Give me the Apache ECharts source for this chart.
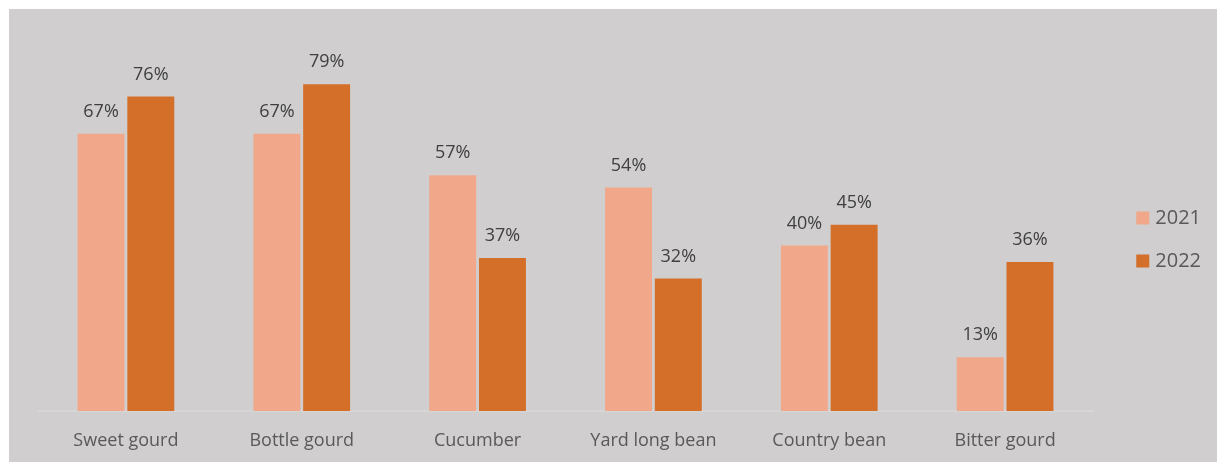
<!DOCTYPE html>
<html>
<head>
<meta charset="utf-8">
<script src="https://cdn.jsdelivr.net/npm/echarts@6/dist/echarts.min.js"></script>
<style>
html,body{margin:0;padding:0;background:#ffffff;}
#chart{position:absolute;left:9px;top:9px;width:1208px;height:453px;background:#d0cece;}
</style>
</head>
<body>
<div id="chart"></div>
<script>
const categories = ['Sweet gourd', 'Bottle gourd', 'Cucumber', 'Yard long bean', 'Country bean', 'Bitter gourd'];
const values2021 = [67, 67, 57, 54, 40, 13];
const values2022 = [76, 79, 37, 32, 45, 36];
const seriesNames = ['2021', '2022'];

const chart = echarts.init(document.getElementById('chart'));
const font = '"Open Sans", sans-serif';
const lbl = {
  show: true, position: 'top', distance: 13,
  formatter: p => Math.round(p.value) + '%',
  color: '#404040', fontSize: 18, fontFamily: font
};
chart.setOption({
  backgroundColor: '#d0cece',
  animation: false,
  grid: {left: 29, right: 124, top: 11, bottom: 51},
  legend: {
    orient: 'vertical', right: 11, top: 194,
    itemWidth: 13, itemHeight: 13, itemGap: 23, itemStyle: {borderWidth: 0},
    icon: 'rect',
    textStyle: {color: '#595959', fontSize: 20, fontFamily: font, padding: [0, 0, 0, 1]},
    data: seriesNames
  },
  xAxis: {
    type: 'category', data: categories,
    axisLine: {lineStyle: {color: '#d9d9d9', width: 1.5}},
    axisTick: {show: false},
    axisLabel: {color: '#595959', fontSize: 18, fontFamily: font, margin: 21}
  },
  yAxis: {
    type: 'value', min: 0, max: 94.5,
    show: false, splitLine: {show: false}
  },
  series: [
    {name: seriesNames[0], type: 'bar', data: values2021, barGap: '6%', barCategoryGap: '45%',
     itemStyle: {color: '#f1a88a'}, label: lbl},
    {name: seriesNames[1], type: 'bar', data: values2022, barGap: '6%', barCategoryGap: '45%',
     itemStyle: {color: '#d46f2a'}, label: lbl}
  ]
});
</script>
</body>
</html>
